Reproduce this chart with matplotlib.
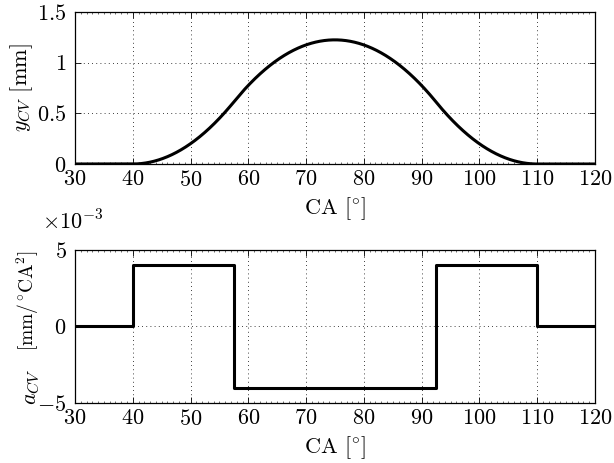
import numpy as np
import matplotlib.pyplot as plt
from matplotlib.ticker import FuncFormatter, MultipleLocator

plt.rcParams['font.family'] = ['cmr10', 'DejaVu Serif']
plt.rcParams['mathtext.fontset'] = 'cm'
plt.rcParams['axes.formatter.use_mathtext'] = True

# Cam acceleration profile: constant levels between crank-angle breakpoints
ca_breaks = [30.0, 40.0, 57.5, 92.5, 110.0, 120.0]
accel_levels = [0.0, 4e-3, -4e-3, 4e-3, 0.0]   # mm/degCA^2

# lift follows from integrating the acceleration twice
ca = np.linspace(ca_breaks[0], ca_breaks[-1], 3601)
idx = np.clip(np.searchsorted(ca_breaks, ca, side='right') - 1, 0, len(accel_levels) - 1)
acc = np.array(accel_levels)[idx]
dx = ca[1] - ca[0]
vel = np.concatenate([[0], np.cumsum((acc[1:] + acc[:-1]) / 2 * dx)])
lift = np.concatenate([[0], np.cumsum((vel[1:] + vel[:-1]) / 2 * dx)])

step_x = np.repeat(ca_breaks, 2)[1:-1]
step_y = np.repeat(accel_levels, 2)

fs = 16
fig = plt.figure(figsize=(6.14, 4.63), dpi=100)
ax1 = fig.add_axes([0.1221, 0.6458, 0.8469, 0.3283])
ax2 = fig.add_axes([0.1221, 0.1296, 0.8469, 0.3305])

ax1.plot(ca, lift, color='black', linewidth=2.2)
ax1.set_ylim(0, 1.5)
ax1.set_yticks([0, 0.5, 1, 1.5])
ax1.yaxis.set_major_formatter(FuncFormatter(lambda v, p: f'${v:g}$'))
ax1.set_ylabel(r'$y_{CV}$ [mm]', fontsize=fs, labelpad=2)

ax2.plot(step_x, step_y, color='black', linewidth=2.2)
ax2.set_ylim(-5e-3, 5e-3)
ax2.set_yticks([-5e-3, 0, 5e-3])
ax2.yaxis.set_major_formatter(FuncFormatter(lambda v, p: f'${round(v * 1e3):d}$'))
fig.text(42 / 614, 1 - 221 / 463, r'$\times10^{-3}$', fontsize=fs, va='center', ha='left')
ax2.text(-0.083, 0.11, r'$a_{CV}$', rotation=90, fontsize=fs,
         transform=ax2.transAxes, ha='center', va='center')
ax2.text(-0.09, 0.667, r'$[\mathrm{mm}/^{\circ}\mathrm{CA}^2]$', rotation=90, fontsize=14,
         transform=ax2.transAxes, ha='center', va='center')

for ax in (ax1, ax2):
    ax.set_xlim(30, 120)
    ax.set_xticks(np.arange(30, 121, 10))
    ax.xaxis.set_major_formatter(FuncFormatter(lambda v, p: f'${v:g}$'))
    ax.xaxis.set_minor_locator(MultipleLocator(1))
    ax.set_xlabel(r'CA [$^{\circ}$]', fontsize=fs, labelpad=4)
    ax.tick_params(which='both', direction='in', top=True, right=True, labelsize=fs)
    ax.tick_params(which='major', length=4, width=0.6, pad=4)
    ax.tick_params(axis='y', which='major', pad=6)
    ax.tick_params(which='minor', length=1.5, width=0.4)
    ax.grid(True, which='major', linestyle=(0, (1, 4)), color='black', linewidth=0.6)
    for s in ax.spines.values():
        s.set_linewidth(0.9)

fig.savefig('out.png', dpi=100)
